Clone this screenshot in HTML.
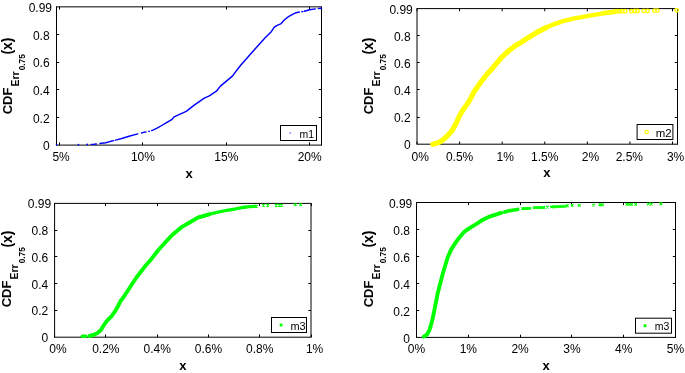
<!DOCTYPE html>
<html><head><meta charset="utf-8"><style>
html,body{margin:0;padding:0;background:#fff;}
svg{display:block;font-family:"Liberation Sans", sans-serif;will-change:transform;}
</style></head><body>
<svg width="685" height="373" viewBox="0 0 685 373">
<rect width="685" height="373" fill="#fff"/>
<line x1="56.50" y1="6.85" x2="321.50" y2="6.85" stroke="#000" stroke-width="1"/>
<line x1="56.50" y1="145.10" x2="321.50" y2="145.10" stroke="#000" stroke-width="1"/>
<line x1="56.50" y1="6.35" x2="56.50" y2="145.60" stroke="#000" stroke-width="1"/>
<line x1="321.50" y1="6.35" x2="321.50" y2="145.60" stroke="#000" stroke-width="1"/>
<line x1="59.50" y1="145.10" x2="59.50" y2="142.40" stroke="#000" stroke-width="1"/>
<line x1="59.50" y1="6.85" x2="59.50" y2="9.55" stroke="#000" stroke-width="1"/>
<text x="61.10" y="161.30" font-size="12" text-anchor="middle" font-weight="normal" fill="#000" >5%</text>
<line x1="142.50" y1="145.10" x2="142.50" y2="142.40" stroke="#000" stroke-width="1"/>
<line x1="142.50" y1="6.85" x2="142.50" y2="9.55" stroke="#000" stroke-width="1"/>
<text x="142.90" y="161.30" font-size="12" text-anchor="middle" font-weight="normal" fill="#000" >10%</text>
<line x1="226.50" y1="145.10" x2="226.50" y2="142.40" stroke="#000" stroke-width="1"/>
<line x1="226.50" y1="6.85" x2="226.50" y2="9.55" stroke="#000" stroke-width="1"/>
<text x="226.30" y="161.30" font-size="12" text-anchor="middle" font-weight="normal" fill="#000" >15%</text>
<line x1="309.50" y1="145.10" x2="309.50" y2="142.40" stroke="#000" stroke-width="1"/>
<line x1="309.50" y1="6.85" x2="309.50" y2="9.55" stroke="#000" stroke-width="1"/>
<text x="309.70" y="161.30" font-size="12" text-anchor="middle" font-weight="normal" fill="#000" >20%</text>
<text x="49.60" y="150.40" font-size="12" text-anchor="end" font-weight="normal" fill="#000" >0</text>
<line x1="56.50" y1="117.50" x2="59.20" y2="117.50" stroke="#000" stroke-width="1"/>
<line x1="321.50" y1="117.50" x2="318.80" y2="117.50" stroke="#000" stroke-width="1"/>
<text x="49.60" y="122.75" font-size="12" text-anchor="end" font-weight="normal" fill="#000" >0.2</text>
<line x1="56.50" y1="89.50" x2="59.20" y2="89.50" stroke="#000" stroke-width="1"/>
<line x1="321.50" y1="89.50" x2="318.80" y2="89.50" stroke="#000" stroke-width="1"/>
<text x="49.60" y="95.10" font-size="12" text-anchor="end" font-weight="normal" fill="#000" >0.4</text>
<line x1="56.50" y1="62.50" x2="59.20" y2="62.50" stroke="#000" stroke-width="1"/>
<line x1="321.50" y1="62.50" x2="318.80" y2="62.50" stroke="#000" stroke-width="1"/>
<text x="49.60" y="67.45" font-size="12" text-anchor="end" font-weight="normal" fill="#000" >0.6</text>
<line x1="56.50" y1="34.50" x2="59.20" y2="34.50" stroke="#000" stroke-width="1"/>
<line x1="321.50" y1="34.50" x2="318.80" y2="34.50" stroke="#000" stroke-width="1"/>
<text x="49.60" y="39.80" font-size="12" text-anchor="end" font-weight="normal" fill="#000" >0.8</text>
<text x="52.00" y="12.15" font-size="12" text-anchor="end" font-weight="normal" fill="#000" >0.99</text>
<text x="189.00" y="178.30" font-size="13" text-anchor="middle" font-weight="bold" fill="#000" >x</text>
<text transform="translate(11.60,114.30) rotate(-90)" font-size="13" font-weight="bold">CDF</text>
<text transform="translate(18.50,86.40) rotate(-90)" font-size="10.4" font-weight="bold">Err</text>
<text transform="translate(24.90,70.30) rotate(-90)" font-size="8.3" font-weight="bold">0.75</text>
<text transform="translate(11.90,54.60) rotate(-90)" font-size="14" font-weight="bold">(x)</text>
<line x1="417.00" y1="8.60" x2="677.50" y2="8.60" stroke="#000" stroke-width="1"/>
<line x1="417.00" y1="144.20" x2="677.50" y2="144.20" stroke="#000" stroke-width="1"/>
<line x1="417.00" y1="8.10" x2="417.00" y2="144.70" stroke="#000" stroke-width="1"/>
<line x1="677.50" y1="8.10" x2="677.50" y2="144.70" stroke="#000" stroke-width="1"/>
<line x1="417.00" y1="144.20" x2="417.00" y2="141.50" stroke="#000" stroke-width="1"/>
<line x1="417.00" y1="8.60" x2="417.00" y2="11.30" stroke="#000" stroke-width="1"/>
<text x="420.20" y="161.10" font-size="12" text-anchor="middle" font-weight="normal" fill="#000" >0%</text>
<line x1="459.58" y1="144.20" x2="459.58" y2="141.50" stroke="#000" stroke-width="1"/>
<line x1="459.58" y1="8.60" x2="459.58" y2="11.30" stroke="#000" stroke-width="1"/>
<text x="459.58" y="161.10" font-size="12" text-anchor="middle" font-weight="normal" fill="#000" >0.5%</text>
<line x1="502.17" y1="144.20" x2="502.17" y2="141.50" stroke="#000" stroke-width="1"/>
<line x1="502.17" y1="8.60" x2="502.17" y2="11.30" stroke="#000" stroke-width="1"/>
<text x="505.27" y="161.10" font-size="12" text-anchor="middle" font-weight="normal" fill="#000" >1%</text>
<line x1="544.75" y1="144.20" x2="544.75" y2="141.50" stroke="#000" stroke-width="1"/>
<line x1="544.75" y1="8.60" x2="544.75" y2="11.30" stroke="#000" stroke-width="1"/>
<text x="544.75" y="161.10" font-size="12" text-anchor="middle" font-weight="normal" fill="#000" >1.5%</text>
<line x1="587.33" y1="144.20" x2="587.33" y2="141.50" stroke="#000" stroke-width="1"/>
<line x1="587.33" y1="8.60" x2="587.33" y2="11.30" stroke="#000" stroke-width="1"/>
<text x="590.43" y="161.10" font-size="12" text-anchor="middle" font-weight="normal" fill="#000" >2%</text>
<line x1="629.92" y1="144.20" x2="629.92" y2="141.50" stroke="#000" stroke-width="1"/>
<line x1="629.92" y1="8.60" x2="629.92" y2="11.30" stroke="#000" stroke-width="1"/>
<text x="629.32" y="161.10" font-size="12" text-anchor="middle" font-weight="normal" fill="#000" >2.5%</text>
<line x1="672.50" y1="144.20" x2="672.50" y2="141.50" stroke="#000" stroke-width="1"/>
<line x1="672.50" y1="8.60" x2="672.50" y2="11.30" stroke="#000" stroke-width="1"/>
<text x="675.60" y="161.10" font-size="12" text-anchor="middle" font-weight="normal" fill="#000" >3%</text>
<text x="410.60" y="149.10" font-size="12" text-anchor="end" font-weight="normal" fill="#000" >0</text>
<line x1="417.00" y1="117.50" x2="419.70" y2="117.50" stroke="#000" stroke-width="1"/>
<line x1="677.50" y1="117.50" x2="674.80" y2="117.50" stroke="#000" stroke-width="1"/>
<text x="410.60" y="121.98" font-size="12" text-anchor="end" font-weight="normal" fill="#000" >0.2</text>
<line x1="417.00" y1="89.50" x2="419.70" y2="89.50" stroke="#000" stroke-width="1"/>
<line x1="677.50" y1="89.50" x2="674.80" y2="89.50" stroke="#000" stroke-width="1"/>
<text x="410.60" y="94.86" font-size="12" text-anchor="end" font-weight="normal" fill="#000" >0.4</text>
<line x1="417.00" y1="62.50" x2="419.70" y2="62.50" stroke="#000" stroke-width="1"/>
<line x1="677.50" y1="62.50" x2="674.80" y2="62.50" stroke="#000" stroke-width="1"/>
<text x="410.60" y="67.74" font-size="12" text-anchor="end" font-weight="normal" fill="#000" >0.6</text>
<line x1="417.00" y1="35.50" x2="419.70" y2="35.50" stroke="#000" stroke-width="1"/>
<line x1="677.50" y1="35.50" x2="674.80" y2="35.50" stroke="#000" stroke-width="1"/>
<text x="410.60" y="40.62" font-size="12" text-anchor="end" font-weight="normal" fill="#000" >0.8</text>
<text x="412.80" y="13.50" font-size="12" text-anchor="end" font-weight="normal" fill="#000" >0.99</text>
<text x="546.80" y="177.20" font-size="13" text-anchor="middle" font-weight="bold" fill="#000" >x</text>
<text transform="translate(373.10,114.30) rotate(-90)" font-size="13" font-weight="bold">CDF</text>
<text transform="translate(380.00,86.40) rotate(-90)" font-size="10.4" font-weight="bold">Err</text>
<text transform="translate(386.40,70.30) rotate(-90)" font-size="8.3" font-weight="bold">0.75</text>
<text transform="translate(373.40,54.60) rotate(-90)" font-size="14" font-weight="bold">(x)</text>
<line x1="54.60" y1="203.40" x2="311.00" y2="203.40" stroke="#000" stroke-width="1"/>
<line x1="54.60" y1="337.20" x2="311.00" y2="337.20" stroke="#000" stroke-width="1"/>
<line x1="54.60" y1="202.90" x2="54.60" y2="337.70" stroke="#000" stroke-width="1"/>
<line x1="311.00" y1="202.90" x2="311.00" y2="337.70" stroke="#000" stroke-width="1"/>
<line x1="54.50" y1="337.20" x2="54.50" y2="334.50" stroke="#000" stroke-width="1"/>
<line x1="54.50" y1="203.40" x2="54.50" y2="206.10" stroke="#000" stroke-width="1"/>
<text x="58.00" y="353.20" font-size="12" text-anchor="middle" font-weight="normal" fill="#000" >0%</text>
<line x1="105.50" y1="337.20" x2="105.50" y2="334.50" stroke="#000" stroke-width="1"/>
<line x1="105.50" y1="203.40" x2="105.50" y2="206.10" stroke="#000" stroke-width="1"/>
<text x="105.88" y="353.20" font-size="12" text-anchor="middle" font-weight="normal" fill="#000" >0.2%</text>
<line x1="157.50" y1="337.20" x2="157.50" y2="334.50" stroke="#000" stroke-width="1"/>
<line x1="157.50" y1="203.40" x2="157.50" y2="206.10" stroke="#000" stroke-width="1"/>
<text x="157.16" y="353.20" font-size="12" text-anchor="middle" font-weight="normal" fill="#000" >0.4%</text>
<line x1="208.50" y1="337.20" x2="208.50" y2="334.50" stroke="#000" stroke-width="1"/>
<line x1="208.50" y1="203.40" x2="208.50" y2="206.10" stroke="#000" stroke-width="1"/>
<text x="208.44" y="353.20" font-size="12" text-anchor="middle" font-weight="normal" fill="#000" >0.6%</text>
<line x1="259.50" y1="337.20" x2="259.50" y2="334.50" stroke="#000" stroke-width="1"/>
<line x1="259.50" y1="203.40" x2="259.50" y2="206.10" stroke="#000" stroke-width="1"/>
<text x="259.72" y="353.20" font-size="12" text-anchor="middle" font-weight="normal" fill="#000" >0.8%</text>
<line x1="311.50" y1="337.20" x2="311.50" y2="334.50" stroke="#000" stroke-width="1"/>
<line x1="311.50" y1="203.40" x2="311.50" y2="206.10" stroke="#000" stroke-width="1"/>
<text x="314.60" y="353.20" font-size="12" text-anchor="middle" font-weight="normal" fill="#000" >1%</text>
<text x="48.20" y="342.20" font-size="12" text-anchor="end" font-weight="normal" fill="#000" >0</text>
<line x1="54.60" y1="310.50" x2="57.30" y2="310.50" stroke="#000" stroke-width="1"/>
<line x1="311.00" y1="310.50" x2="308.30" y2="310.50" stroke="#000" stroke-width="1"/>
<text x="48.20" y="315.44" font-size="12" text-anchor="end" font-weight="normal" fill="#000" >0.2</text>
<line x1="54.60" y1="283.50" x2="57.30" y2="283.50" stroke="#000" stroke-width="1"/>
<line x1="311.00" y1="283.50" x2="308.30" y2="283.50" stroke="#000" stroke-width="1"/>
<text x="48.20" y="288.68" font-size="12" text-anchor="end" font-weight="normal" fill="#000" >0.4</text>
<line x1="54.60" y1="256.50" x2="57.30" y2="256.50" stroke="#000" stroke-width="1"/>
<line x1="311.00" y1="256.50" x2="308.30" y2="256.50" stroke="#000" stroke-width="1"/>
<text x="48.20" y="261.92" font-size="12" text-anchor="end" font-weight="normal" fill="#000" >0.6</text>
<line x1="54.60" y1="230.50" x2="57.30" y2="230.50" stroke="#000" stroke-width="1"/>
<line x1="311.00" y1="230.50" x2="308.30" y2="230.50" stroke="#000" stroke-width="1"/>
<text x="48.20" y="235.16" font-size="12" text-anchor="end" font-weight="normal" fill="#000" >0.8</text>
<text x="51.20" y="208.40" font-size="12" text-anchor="end" font-weight="normal" fill="#000" >0.99</text>
<text x="182.90" y="369.50" font-size="13" text-anchor="middle" font-weight="bold" fill="#000" >x</text>
<text transform="translate(11.30,307.30) rotate(-90)" font-size="13" font-weight="bold">CDF</text>
<text transform="translate(18.20,279.40) rotate(-90)" font-size="10.4" font-weight="bold">Err</text>
<text transform="translate(24.60,263.30) rotate(-90)" font-size="8.3" font-weight="bold">0.75</text>
<text transform="translate(11.60,247.60) rotate(-90)" font-size="14" font-weight="bold">(x)</text>
<line x1="416.50" y1="202.50" x2="675.50" y2="202.50" stroke="#000" stroke-width="1"/>
<line x1="416.50" y1="337.40" x2="675.50" y2="337.40" stroke="#000" stroke-width="1"/>
<line x1="416.50" y1="202.00" x2="416.50" y2="337.90" stroke="#000" stroke-width="1"/>
<line x1="675.50" y1="202.00" x2="675.50" y2="337.90" stroke="#000" stroke-width="1"/>
<line x1="416.50" y1="337.40" x2="416.50" y2="334.70" stroke="#000" stroke-width="1"/>
<line x1="416.50" y1="202.50" x2="416.50" y2="205.20" stroke="#000" stroke-width="1"/>
<text x="416.50" y="353.20" font-size="12" text-anchor="middle" font-weight="normal" fill="#000" >0%</text>
<line x1="468.50" y1="337.40" x2="468.50" y2="334.70" stroke="#000" stroke-width="1"/>
<line x1="468.50" y1="202.50" x2="468.50" y2="205.20" stroke="#000" stroke-width="1"/>
<text x="468.30" y="353.20" font-size="12" text-anchor="middle" font-weight="normal" fill="#000" >1%</text>
<line x1="520.50" y1="337.40" x2="520.50" y2="334.70" stroke="#000" stroke-width="1"/>
<line x1="520.50" y1="202.50" x2="520.50" y2="205.20" stroke="#000" stroke-width="1"/>
<text x="520.10" y="353.20" font-size="12" text-anchor="middle" font-weight="normal" fill="#000" >2%</text>
<line x1="571.50" y1="337.40" x2="571.50" y2="334.70" stroke="#000" stroke-width="1"/>
<line x1="571.50" y1="202.50" x2="571.50" y2="205.20" stroke="#000" stroke-width="1"/>
<text x="571.90" y="353.20" font-size="12" text-anchor="middle" font-weight="normal" fill="#000" >3%</text>
<line x1="623.50" y1="337.40" x2="623.50" y2="334.70" stroke="#000" stroke-width="1"/>
<line x1="623.50" y1="202.50" x2="623.50" y2="205.20" stroke="#000" stroke-width="1"/>
<text x="623.70" y="353.20" font-size="12" text-anchor="middle" font-weight="normal" fill="#000" >4%</text>
<line x1="675.50" y1="337.40" x2="675.50" y2="334.70" stroke="#000" stroke-width="1"/>
<line x1="675.50" y1="202.50" x2="675.50" y2="205.20" stroke="#000" stroke-width="1"/>
<text x="675.50" y="353.20" font-size="12" text-anchor="middle" font-weight="normal" fill="#000" >5%</text>
<text x="410.00" y="342.70" font-size="12" text-anchor="end" font-weight="normal" fill="#000" >0</text>
<line x1="416.50" y1="310.50" x2="419.20" y2="310.50" stroke="#000" stroke-width="1"/>
<line x1="675.50" y1="310.50" x2="672.80" y2="310.50" stroke="#000" stroke-width="1"/>
<text x="410.00" y="315.72" font-size="12" text-anchor="end" font-weight="normal" fill="#000" >0.2</text>
<line x1="416.50" y1="283.50" x2="419.20" y2="283.50" stroke="#000" stroke-width="1"/>
<line x1="675.50" y1="283.50" x2="672.80" y2="283.50" stroke="#000" stroke-width="1"/>
<text x="410.00" y="288.74" font-size="12" text-anchor="end" font-weight="normal" fill="#000" >0.4</text>
<line x1="416.50" y1="256.50" x2="419.20" y2="256.50" stroke="#000" stroke-width="1"/>
<line x1="675.50" y1="256.50" x2="672.80" y2="256.50" stroke="#000" stroke-width="1"/>
<text x="410.00" y="261.76" font-size="12" text-anchor="end" font-weight="normal" fill="#000" >0.6</text>
<line x1="416.50" y1="229.50" x2="419.20" y2="229.50" stroke="#000" stroke-width="1"/>
<line x1="675.50" y1="229.50" x2="672.80" y2="229.50" stroke="#000" stroke-width="1"/>
<text x="410.00" y="234.78" font-size="12" text-anchor="end" font-weight="normal" fill="#000" >0.8</text>
<text x="412.30" y="207.80" font-size="12" text-anchor="end" font-weight="normal" fill="#000" >0.99</text>
<text x="546.00" y="370.30" font-size="13" text-anchor="middle" font-weight="bold" fill="#000" >x</text>
<text transform="translate(372.60,307.30) rotate(-90)" font-size="13" font-weight="bold">CDF</text>
<text transform="translate(379.50,279.40) rotate(-90)" font-size="10.4" font-weight="bold">Err</text>
<text transform="translate(385.90,263.30) rotate(-90)" font-size="8.3" font-weight="bold">0.75</text>
<text transform="translate(372.90,247.60) rotate(-90)" font-size="14" font-weight="bold">(x)</text>
<polyline points="91.2,144.4 94.1,144.3 96.3,144.0 96.4,143.99" fill="none" stroke="#0000ff" stroke-width="1.45" stroke-linejoin="round" stroke-linecap="round" />
<polyline points="100.0,143.53 101.4,143.3 105.8,142.7 109.8,141.6 112.0,141.05" fill="none" stroke="#0000ff" stroke-width="1.45" stroke-linejoin="round" stroke-linecap="round" />
<polyline points="112.9,140.82 113.5,140.67" fill="none" stroke="#0000ff" stroke-width="1.45" stroke-linejoin="round" stroke-linecap="round" />
<polyline points="115.5,140.14 117.5,139.6 121.7,138.5 129,136.2 137.8,133.9" fill="none" stroke="#0000ff" stroke-width="1.45" stroke-linejoin="round" stroke-linecap="round" />
<polyline points="141.5,132.94 143.6,132.4 146.0,131.94" fill="none" stroke="#0000ff" stroke-width="1.45" stroke-linejoin="round" stroke-linecap="round" />
<polyline points="148.8,131.41 149.3,131.32" fill="none" stroke="#0000ff" stroke-width="1.45" stroke-linejoin="round" stroke-linecap="round" />
<polyline points="151.6,130.58 153.5,129.9 158,127.7 161.7,125.5 166.1,122.8 172.1,119.3 174.1,116.9 186.2,111.3 194.2,105.2 204.3,98.2 209.3,95.8 216.4,91.2 220.4,86.1 226.4,81.1 232.4,76.1 238.5,68 240.5,65.5 249.5,55.3 256.6,47.2 264.9,38.1 270.8,32.3 274.1,27.3 276.6,25.6 280.7,23.9 284,20.3 288.5,16.6 292.6,14.3 296.1,12.7 299.3,12.0" fill="none" stroke="#0000ff" stroke-width="1.45" stroke-linejoin="round" stroke-linecap="round" />
<circle cx="56.6" cy="144.8" r="0.9" fill="#0000ff"/>
<circle cx="78.4" cy="144.7" r="0.9" fill="#0000ff"/>
<circle cx="87.2" cy="144.5" r="0.9" fill="#0000ff"/>
<polyline points="302.0,11.7 302.6,11.55" fill="none" stroke="#0000ff" stroke-width="1.45" stroke-linejoin="round" stroke-linecap="round" />
<polyline points="304.3,11.2 309.5,9.8 315.4,8.9" fill="none" stroke="#0000ff" stroke-width="1.45" stroke-linejoin="round" stroke-linecap="round" />
<polyline points="318.3,8.5 321.5,8.3" fill="none" stroke="#0000ff" stroke-width="1.45" stroke-linejoin="round" stroke-linecap="round" />
<polyline points="432.9,144.3 439,142.4 443.2,139.7 447.2,136 452.3,130.3 456.4,122.7 460,115 463.2,109.5 467.5,103.8 471,97.8 474.6,90.9 480.2,82.9 487.2,74 493.3,67.2 496.5,63.4 502,57.0 505,54.3 509.7,50.0 515.8,45.4 521,42.5 528.6,37.4 538.3,31.6 546,27.6" fill="none" stroke="#ffff00" stroke-width="5.2" stroke-linejoin="round" stroke-linecap="round" />
<polyline points="538.3,31.6 546,27.6 553.8,24.3 563,21.2 573.2,18.7 583,16.8 592.6,15.2 599,14.1" fill="none" stroke="#ffff00" stroke-width="4.4" stroke-linejoin="round" stroke-linecap="round" />
<circle cx="601.5" cy="13.6" r="1.75" fill="none" stroke="#ffff00" stroke-width="1.4"/>
<circle cx="603.5" cy="13.3" r="1.75" fill="none" stroke="#ffff00" stroke-width="1.4"/>
<circle cx="605.5" cy="13.0" r="1.75" fill="none" stroke="#ffff00" stroke-width="1.4"/>
<circle cx="607.5" cy="12.7" r="1.75" fill="none" stroke="#ffff00" stroke-width="1.4"/>
<circle cx="609.5" cy="12.4" r="1.75" fill="none" stroke="#ffff00" stroke-width="1.4"/>
<circle cx="611.5" cy="12.2" r="1.75" fill="none" stroke="#ffff00" stroke-width="1.4"/>
<circle cx="613.6" cy="12.0" r="1.75" fill="none" stroke="#ffff00" stroke-width="1.4"/>
<circle cx="615.5" cy="11.6" r="1.75" fill="none" stroke="#ffff00" stroke-width="1.4"/>
<circle cx="617.2" cy="11.3" r="1.75" fill="none" stroke="#ffff00" stroke-width="1.4"/>
<circle cx="619.5" cy="11.4" r="1.75" fill="none" stroke="#ffff00" stroke-width="1.4"/>
<circle cx="621.9" cy="11.3" r="1.75" fill="none" stroke="#ffff00" stroke-width="1.4"/>
<circle cx="625.2" cy="11.3" r="1.75" fill="none" stroke="#ffff00" stroke-width="1.4"/>
<circle cx="631.4" cy="11.2" r="1.75" fill="none" stroke="#ffff00" stroke-width="1.4"/>
<circle cx="634.7" cy="11.0" r="1.75" fill="none" stroke="#ffff00" stroke-width="1.4"/>
<circle cx="637.6" cy="11.0" r="1.75" fill="none" stroke="#ffff00" stroke-width="1.4"/>
<circle cx="643.8" cy="10.9" r="1.75" fill="none" stroke="#ffff00" stroke-width="1.4"/>
<circle cx="647.5" cy="10.9" r="1.75" fill="none" stroke="#ffff00" stroke-width="1.4"/>
<circle cx="654.4" cy="10.6" r="1.75" fill="none" stroke="#ffff00" stroke-width="1.4"/>
<circle cx="657.3" cy="10.6" r="1.75" fill="none" stroke="#ffff00" stroke-width="1.4"/>
<circle cx="676.7" cy="10.3" r="1.75" fill="none" stroke="#ffff00" stroke-width="1.4"/>
<polyline points="89.5,336.0 93.5,334.9 97.5,332.9 100.9,330 103.6,325.5 106.9,320.8 111.6,316.1 115.0,311.4 117.7,306.8 120.3,301.4 123.1,297.8 125.6,294.0 128.9,289 132.6,283.3 136.5,277.5 144.2,267.3 151.8,258.4 158.2,250.3 164.5,243.2 172.2,235 181.1,227.4 190.0,222.3 197.8,217.6 209.2,214.3" fill="none" stroke="#00ff00" stroke-width="3.9" stroke-linejoin="round" stroke-linecap="round" />
<polyline points="197.8,217.6 209.2,214.3 218,212.1 227.1,210.3 236,208.8 242,207.6 245,207.2" fill="none" stroke="#00ff00" stroke-width="3.2" stroke-linejoin="round" stroke-linecap="round" />
<path d="M243.7,205.89999999999998L246.3,208.5M243.7,208.5L246.3,205.89999999999998" stroke="#00ff00" stroke-width="1.2"/>
<path d="M245.2,205.7L247.8,208.3M245.2,208.3L247.8,205.7" stroke="#00ff00" stroke-width="1.2"/>
<path d="M246.7,205.5L249.3,208.10000000000002M246.7,208.10000000000002L249.3,205.5" stroke="#00ff00" stroke-width="1.2"/>
<path d="M248.07999999999998,205.39999999999998L250.68,208.0M248.07999999999998,208.0L250.68,205.39999999999998" stroke="#00ff00" stroke-width="1.2"/>
<path d="M249.47,205.29999999999998L252.07000000000002,207.9M249.47,207.9L252.07000000000002,205.29999999999998" stroke="#00ff00" stroke-width="1.2"/>
<path d="M250.85,205.2L253.45000000000002,207.8M250.85,207.8L253.45000000000002,205.2" stroke="#00ff00" stroke-width="1.2"/>
<path d="M252.23,205.1L254.83,207.70000000000002M252.23,207.70000000000002L254.83,205.1" stroke="#00ff00" stroke-width="1.2"/>
<path d="M253.61999999999998,205.0L256.21999999999997,207.60000000000002M253.61999999999998,207.60000000000002L256.21999999999997,205.0" stroke="#00ff00" stroke-width="1.2"/>
<path d="M255.0,204.89999999999998L257.6,207.5M255.0,207.5L257.6,204.89999999999998" stroke="#00ff00" stroke-width="1.2"/>
<polyline points="82.39999999999999,336.2 85.6,336.2" fill="none" stroke="#00ff00" stroke-width="3.6" stroke-linejoin="round" stroke-linecap="round" />
<path d="M262.2,203.89999999999998L264.8,206.5M262.2,206.5L264.8,203.89999999999998" stroke="#00ff00" stroke-width="1.2"/>
<path d="M266.4,203.89999999999998L269.0,206.5M266.4,206.5L269.0,203.89999999999998" stroke="#00ff00" stroke-width="1.2"/>
<path d="M274.8,203.89999999999998L277.40000000000003,206.5M274.8,206.5L277.40000000000003,203.89999999999998" stroke="#00ff00" stroke-width="1.2"/>
<path d="M277.8,203.89999999999998L280.40000000000003,206.5M277.8,206.5L280.40000000000003,203.89999999999998" stroke="#00ff00" stroke-width="1.2"/>
<path d="M280.2,203.89999999999998L282.8,206.5M280.2,206.5L282.8,203.89999999999998" stroke="#00ff00" stroke-width="1.2"/>
<path d="M293.9,203.29999999999998L296.5,205.9M293.9,205.9L296.5,203.29999999999998" stroke="#00ff00" stroke-width="1.2"/>
<path d="M299.3,203.29999999999998L301.90000000000003,205.9M299.3,205.9L301.90000000000003,203.29999999999998" stroke="#00ff00" stroke-width="1.2"/>
<polyline points="423.8,336.6 427.1,334.5 429.5,329.9 431.9,321.8 434,312.2 435.9,302.5 437.8,292.9 439.9,284.8 442.9,273.3 445.3,265.2 447.8,257.2 451,249.9 455,243.5 459,237.9 463.8,232.2 469.5,228.2 476.1,224.2 481.9,220.3 489.2,216.7 495,214.8 499.4,213.4 501.2,212.95" fill="none" stroke="#00ff00" stroke-width="3.9" stroke-linejoin="round" stroke-linecap="round" />
<polyline points="504.6,212.08 508.2,211.1 514,210.1 517.7,209.4" fill="none" stroke="#00ff00" stroke-width="3.6" stroke-linejoin="round" stroke-linecap="round" />
<path d="M521.25,207.35L523.75,209.85M521.25,209.85L523.75,207.35" stroke="#00ff00" stroke-width="1.1"/>
<path d="M522.75,207.31L525.25,209.81M522.75,209.81L525.25,207.31" stroke="#00ff00" stroke-width="1.1"/>
<path d="M524.25,207.27L526.75,209.77M524.25,209.77L526.75,207.27" stroke="#00ff00" stroke-width="1.1"/>
<path d="M525.75,207.23L528.25,209.73M525.75,209.73L528.25,207.23" stroke="#00ff00" stroke-width="1.1"/>
<path d="M527.25,207.19L529.75,209.69M527.25,209.69L529.75,207.19" stroke="#00ff00" stroke-width="1.1"/>
<path d="M528.75,207.15L531.25,209.65M528.75,209.65L531.25,207.15" stroke="#00ff00" stroke-width="1.1"/>
<path d="M532.75,206.45L535.25,208.95M532.75,208.95L535.25,206.45" stroke="#00ff00" stroke-width="1.1"/>
<path d="M534.42,206.42L536.92,208.92M534.42,208.92L536.92,206.42" stroke="#00ff00" stroke-width="1.1"/>
<path d="M536.08,206.38L538.58,208.88M536.08,208.88L538.58,206.38" stroke="#00ff00" stroke-width="1.1"/>
<path d="M537.75,206.35L540.25,208.85M537.75,208.85L540.25,206.35" stroke="#00ff00" stroke-width="1.1"/>
<path d="M539.42,206.32L541.92,208.82M539.42,208.82L541.92,206.32" stroke="#00ff00" stroke-width="1.1"/>
<path d="M541.08,206.28L543.58,208.78M541.08,208.78L543.58,206.28" stroke="#00ff00" stroke-width="1.1"/>
<path d="M542.75,206.25L545.25,208.75M542.75,208.75L545.25,206.25" stroke="#00ff00" stroke-width="1.1"/>
<path d="M550.25,205.65L552.75,208.15M550.25,208.15L552.75,205.65" stroke="#00ff00" stroke-width="1.1"/>
<path d="M551.94,205.58L554.44,208.08M551.94,208.08L554.44,205.58" stroke="#00ff00" stroke-width="1.1"/>
<path d="M553.63,205.5L556.13,208.0M553.63,208.0L556.13,205.5" stroke="#00ff00" stroke-width="1.1"/>
<path d="M555.31,205.43L557.81,207.93M555.31,207.93L557.81,205.43" stroke="#00ff00" stroke-width="1.1"/>
<path d="M557.0,205.35L559.5,207.85M557.0,207.85L559.5,205.35" stroke="#00ff00" stroke-width="1.1"/>
<path d="M558.69,205.28L561.19,207.78M558.69,207.78L561.19,205.28" stroke="#00ff00" stroke-width="1.1"/>
<path d="M560.37,205.2L562.87,207.7M560.37,207.7L562.87,205.2" stroke="#00ff00" stroke-width="1.1"/>
<path d="M562.06,205.13L564.56,207.63M562.06,207.63L564.56,205.13" stroke="#00ff00" stroke-width="1.1"/>
<path d="M563.75,205.05L566.25,207.55M563.75,207.55L566.25,205.05" stroke="#00ff00" stroke-width="1.1"/>
<path d="M546.2,205.79999999999998L548.8,208.4M546.2,208.4L548.8,205.79999999999998" stroke="#00ff00" stroke-width="1.2"/>
<path d="M565.9000000000001,204.39999999999998L568.5,207.0M565.9000000000001,207.0L568.5,204.39999999999998" stroke="#00ff00" stroke-width="1.2"/>
<path d="M570.9000000000001,204.1L573.5,206.70000000000002M570.9000000000001,206.70000000000002L573.5,204.1" stroke="#00ff00" stroke-width="1.2"/>
<path d="M578.0,204.1L580.5999999999999,206.70000000000002M578.0,206.70000000000002L580.5999999999999,204.1" stroke="#00ff00" stroke-width="1.2"/>
<path d="M592.2,203.79999999999998L594.8,206.4M592.2,206.4L594.8,203.79999999999998" stroke="#00ff00" stroke-width="1.2"/>
<path d="M598.7,203.5L601.3,206.10000000000002M598.7,206.10000000000002L601.3,203.5" stroke="#00ff00" stroke-width="1.2"/>
<path d="M601.0,203.5L603.5999999999999,206.10000000000002M601.0,206.10000000000002L603.5999999999999,203.5" stroke="#00ff00" stroke-width="1.2"/>
<path d="M625.7,203.1L628.3,205.70000000000002M625.7,205.70000000000002L628.3,203.1" stroke="#00ff00" stroke-width="1.2"/>
<path d="M628.2,203.1L630.8,205.70000000000002M628.2,205.70000000000002L630.8,203.1" stroke="#00ff00" stroke-width="1.2"/>
<path d="M630.2,203.1L632.8,205.70000000000002M630.2,205.70000000000002L632.8,203.1" stroke="#00ff00" stroke-width="1.2"/>
<path d="M634.4000000000001,203.1L637.0,205.70000000000002M634.4000000000001,205.70000000000002L637.0,203.1" stroke="#00ff00" stroke-width="1.2"/>
<path d="M647.2,202.7L649.8,205.3M647.2,205.3L649.8,202.7" stroke="#00ff00" stroke-width="1.2"/>
<path d="M650.2,202.7L652.8,205.3M650.2,205.3L652.8,202.7" stroke="#00ff00" stroke-width="1.2"/>
<path d="M659.5,202.39999999999998L662.0999999999999,205.0M659.5,205.0L662.0999999999999,202.39999999999998" stroke="#00ff00" stroke-width="1.2"/>
<rect x="280.5" y="125.5" width="36.0" height="15.0" fill="#fff" stroke="#000" stroke-width="1"/>
<text x="299.50" y="137.60" font-size="10.2" text-anchor="start" font-weight="normal" fill="#000" textLength="14.5" lengthAdjust="spacingAndGlyphs">m1</text>
<circle cx="290.1" cy="133.0" r="0.75" fill="#4848ff"/>
<rect x="637.1" y="124.5" width="35.799999999999955" height="15.0" fill="#fff" stroke="#000" stroke-width="1"/>
<text x="655.70" y="137.20" font-size="10.2" text-anchor="start" font-weight="normal" fill="#000" textLength="15.9" lengthAdjust="spacingAndGlyphs">m2</text>
<circle cx="646.7" cy="132.0" r="1.7" fill="none" stroke="#ffff00" stroke-width="1.2"/>
<rect x="271.5" y="317.5" width="35.0" height="15.0" fill="#fff" stroke="#000" stroke-width="1"/>
<text x="290.50" y="330.40" font-size="10.2" text-anchor="start" font-weight="normal" fill="#000" textLength="15.2" lengthAdjust="spacingAndGlyphs">m3</text>
<path d="M279.90000000000003,323.8L282.3,326.2M279.90000000000003,326.2L282.3,323.8" stroke="#00ff00" stroke-width="1.4"/>
<rect x="635.5" y="318.2" width="36.0" height="15.0" fill="#fff" stroke="#000" stroke-width="1"/>
<text x="654.80" y="329.80" font-size="10.2" text-anchor="start" font-weight="normal" fill="#000" textLength="14.6" lengthAdjust="spacingAndGlyphs">m3</text>
<path d="M643.9,324.5L646.3000000000001,326.9M643.9,326.9L646.3000000000001,324.5" stroke="#00ff00" stroke-width="1.4"/>
</svg></body></html>
